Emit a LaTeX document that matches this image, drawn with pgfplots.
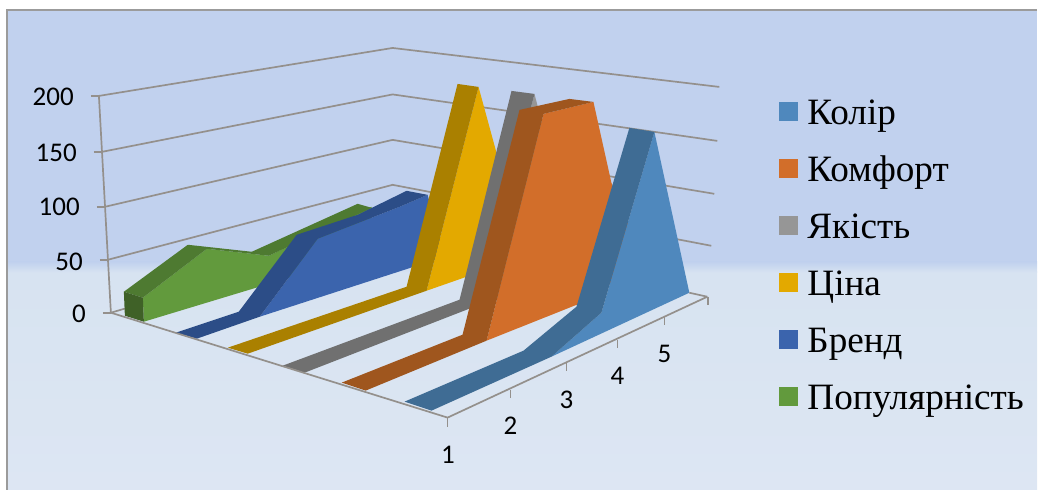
\documentclass[border=0pt]{standalone}
\usepackage{fontspec}
\setmainfont{Liberation Serif}
\newfontfamily\calibri{Carlito}
\usepackage{pgfplots}
\pgfplotsset{compat=1.18}

\definecolor{bgtop}{RGB}{193,209,238}
\definecolor{bgmid}{RGB}{215,227,241}
\definecolor{bgbot}{RGB}{221,230,243}
\definecolor{gridc}{RGB}{148,144,140}
\definecolor{framec}{RGB}{155,155,155}
\definecolor{kolir}{RGB}{79,136,189}
\definecolor{kolird}{RGB}{63,108,148}
\definecolor{komf}{RGB}{210,110,42}
\definecolor{komfd}{RGB}{159,86,30}
\definecolor{yak}{RGB}{150,150,150}
\definecolor{yakd}{RGB}{112,112,112}
\definecolor{cina}{RGB}{227,169,0}
\definecolor{cinad}{RGB}{170,128,0}
\definecolor{brend}{RGB}{59,100,173}
\definecolor{brendd}{RGB}{44,77,135}
\definecolor{pop}{RGB}{98,154,61}
\definecolor{popd}{RGB}{78,122,49}
\definecolor{popdd}{RGB}{63,97,39}

\pgfplotsset{
  gl/.style={color=gridc,line width=1.7pt},
  ar/.style={draw=none,fill=#1},
}
\newcommand{\ticktext}{\calibri\fontsize{27}{30}\selectfont}
\newcommand{\legtext}{\fontsize{37.2}{40}\selectfont}

\begin{document}
\begin{tikzpicture}
\begin{axis}[
    scale only axis,
    width=1038pt,
    height=490pt,
    xmin=0, xmax=1038,
    ymin=0, ymax=490,
    y dir=reverse,
    hide axis,
    clip=false,
]
% page
\addplot[ar=white] coordinates {(0,0) (1038,0) (1038,490) (0,490)} --cycle;
% background
\addplot[ar=bgtop] coordinates {(8,11) (1038,11) (1038,263) (8,263)} --cycle;
\addplot[draw=none,top color=bgmid,bottom color=bgbot] coordinates {(8,272) (1038,272) (1038,490) (8,490)} --cycle;
\addplot[draw=none,top color=bgtop,bottom color=bgmid] coordinates {(8,262) (1038,262) (1038,273) (8,273)} --cycle;
\addplot[color=framec,line width=2pt] coordinates {(7.5,490) (7.5,10.5) (1038,10.5)};

% walls
\addplot[gl] coordinates {(99,96) (393,48) (720,87)};
\addplot[gl] coordinates {(102,152) (393,94.5) (718,141)};
\addplot[gl] coordinates {(105,207) (393,140) (715,194)};
\addplot[gl] coordinates {(108,260) (393,185) (712,246)};
\addplot[gl] coordinates {(111,313) (393,230)};
\addplot[gl] coordinates {(99,96) (111,313)};
\addplot[gl] coordinates {(91,96) (99,96)};
\addplot[gl] coordinates {(94,152) (102,152)};
\addplot[gl] coordinates {(97,207) (105,207)};
\addplot[gl] coordinates {(100,260) (108,260)};
\addplot[gl] coordinates {(103,313) (111,313)};

% Popularnist
\addplot[ar=pop] coordinates {(144,322) (143,298) (207,249) (269,256) (372,207) (372,253)} --cycle;
\addplot[ar=popd] coordinates {(124,292) (188,245) (252,252) (358,204) (372,208) (269,256) (207,249) (143,298)} --cycle;
\addplot[ar=popdd] coordinates {(124,292) (143,298) (144,322) (125,316)} --cycle;

% Brend
\addplot[ar=brend] coordinates {(260,317) (318,239) (400,207) (428,195) (445,257)} --cycle;
\addplot[ar=brendd] coordinates {(176,333) (239,312) (297,235) (358,215) (407,191) (428,195) (400,207) (318,239) (260,317) (197,339)} --cycle;

% Cina
\addplot[ar=cina] coordinates {(427,291) (479,87) (497,153) (510,262)} --cycle;
\addplot[ar=cinad] coordinates {(228,348) (407,287) (458,84) (479,87) (427,291) (248,354)} --cycle;

% Yakist
\addplot[ar=yak] coordinates {(480,305) (535,94) (552,160) (560,275)} --cycle;
\addplot[ar=yakd] coordinates {(283,366) (460,300) (512,91) (535,94) (480,305) (305,373)} --cycle;

% Komfort
\addplot[ar=komf] coordinates {(487,341) (544,114) (594,102) (612,183) (640,250) (600,296)} --cycle;
\addplot[ar=komfd] coordinates {(342,383) (463,335) (520,110) (570,99) (594,102) (544,114) (487,341) (366,391)} --cycle;

% Kolir
\addplot[ar=kolir] coordinates {(552,357) (602,313) (655,132) (690,293)} --cycle;
\addplot[ar=kolird] coordinates {(405,402) (524,351) (577,307) (630,128) (655,132) (602,313) (552,357) (432,411)} --cycle;

% floor edges and ticks
\addplot[gl] coordinates {(111,313) (448,418) (708,297)};
\addplot[gl] coordinates {(690,293) (708,297)};
\addplot[gl] coordinates {(448,418) (448,427)};
\addplot[gl] coordinates {(511,390) (511,398)};
\addplot[gl] coordinates {(567,363) (567,371)};
\addplot[gl] coordinates {(618,340) (618,348)};
\addplot[gl] coordinates {(665,317) (665,325)};
\addplot[gl] coordinates {(708.5,297) (708.5,305)};

% tick labels
\node[anchor=base east,inner sep=0pt] at (axis cs:74,106) {\ticktext 200};
\node[anchor=base east,inner sep=0pt] at (axis cs:77,162) {\ticktext 150};
\node[anchor=base east,inner sep=0pt] at (axis cs:80,216) {\ticktext 100};
\node[anchor=base east,inner sep=0pt] at (axis cs:83,271) {\ticktext 50};
\node[anchor=base east,inner sep=0pt] at (axis cs:86,323) {\ticktext 0};
\node[anchor=base,inner sep=0pt] at (axis cs:448.5,464) {\ticktext 1};
\node[anchor=base,inner sep=0pt] at (axis cs:511,435) {\ticktext 2};
\node[anchor=base,inner sep=0pt] at (axis cs:567,409) {\ticktext 3};
\node[anchor=base,inner sep=0pt] at (axis cs:618,385) {\ticktext 4};
\node[anchor=base,inner sep=0pt] at (axis cs:665,363) {\ticktext 5};

% legend
\addplot[ar=kolir] coordinates {(780,102) (799,102) (799,121) (780,121)} --cycle;
\addplot[ar=komf] coordinates {(780,159) (799,159) (799,178) (780,178)} --cycle;
\addplot[ar=yak] coordinates {(780,216) (799,216) (799,235) (780,235)} --cycle;
\addplot[ar=cina] coordinates {(780,273) (799,273) (799,292) (780,292)} --cycle;
\addplot[ar=brend] coordinates {(780,330) (799,330) (799,349) (780,349)} --cycle;
\addplot[ar=pop] coordinates {(780,387) (799,387) (799,406) (780,406)} --cycle;
\node[anchor=base west,inner sep=0pt] at (axis cs:808,125) {\legtext Колір};
\node[anchor=base west,inner sep=0pt] at (axis cs:808,182) {\legtext Комфорт};
\node[anchor=base west,inner sep=0pt] at (axis cs:808,239) {\legtext Якість};
\node[anchor=base west,inner sep=0pt] at (axis cs:808,296) {\legtext Ціна};
\node[anchor=base west,inner sep=0pt] at (axis cs:808,353) {\legtext Бренд};
\node[anchor=base west,inner sep=0pt] at (axis cs:808,410) {\legtext Популярність};
\end{axis}
\end{tikzpicture}
\end{document}
